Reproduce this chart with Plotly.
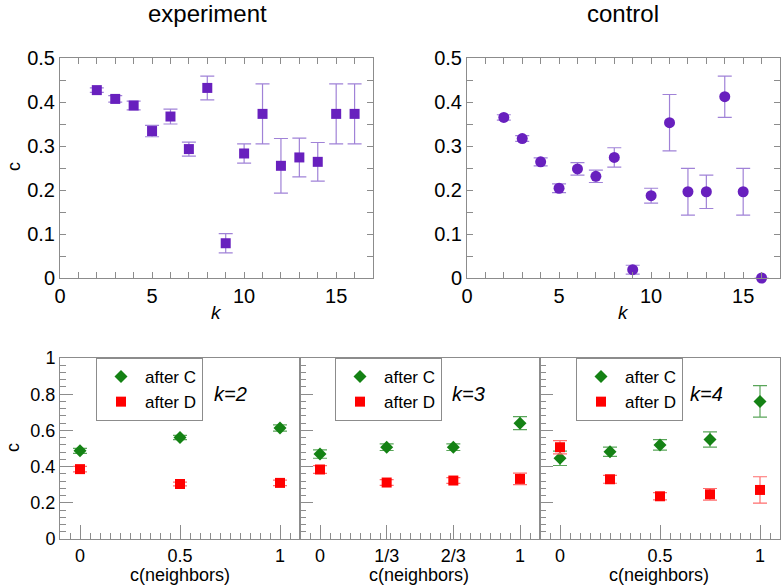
import numpy as np
import plotly.graph_objects as go

# ---- data ----
k_vals = list(range(2, 17))

exp_c = [0.427, 0.407, 0.392, 0.334, 0.367, 0.293, 0.432, 0.079, 0.283, 0.373, 0.255, 0.274, 0.264, 0.373, 0.373]
exp_err = [0.005, 0.0075, 0.01, 0.013, 0.017, 0.016, 0.027, 0.022, 0.022, 0.068, 0.062, 0.044, 0.044, 0.068, 0.068]

ctl_c = [0.365, 0.317, 0.264, 0.204, 0.248, 0.231, 0.274, 0.019, 0.187, 0.353, 0.196, 0.196, 0.412, 0.196, 0.0]
ctl_err = [0.006, 0.0065, 0.009, 0.01, 0.014, 0.014, 0.022, 0.01, 0.017, 0.064, 0.053, 0.038, 0.047, 0.053, None]

# bottom panels: fraction of cooperating neighbours
nb_k2 = [0, 0.5, 1]
afterC_k2 = [0.487, 0.561, 0.613]
afterC_k2_err = [0.014, 0.012, 0.017]
afterD_k2 = [0.386, 0.304, 0.31]
afterD_k2_err = [0.015, 0.01, 0.015]

nb_k3 = [0, 1 / 3, 2 / 3, 1]
afterC_k3 = [0.469, 0.507, 0.507, 0.640]
afterC_k3_err = [0.023, 0.018, 0.018, 0.036]
afterD_k3 = [0.384, 0.312, 0.323, 0.332]
afterD_k3_err = [0.021, 0.016, 0.016, 0.032]

nb_k4 = [0, 0.25, 0.5, 0.75, 1]
afterC_k4 = [0.446, 0.482, 0.520, 0.550, 0.760]
afterC_k4_err = [0.04, 0.026, 0.029, 0.042, 0.087]
afterD_k4 = [0.507, 0.330, 0.236, 0.247, 0.271]
afterD_k4_err = [0.037, 0.022, 0.02, 0.032, 0.073]

top_yticks = [round(v, 2) for v in np.arange(0, 0.51, 0.05)]
top_yticktext = ["0", "", "0.1", "", "0.2", "", "0.3", "", "0.4", "", "0.5"]
top_xticks = list(range(0, 18))
top_xticktext = [str(v) if v % 5 == 0 else "" for v in top_xticks]

half_ticks = [0, 0.5, 1]
half_text = ["0", "0.5", "1"]
third_ticks = [0, 1 / 3, 2 / 3, 1]
third_text = ["0", "1/3", "2/3", "1"]

W, H = 783, 585
FONT = "Liberation Sans, Arial, sans-serif"
PURPLE = "rgb(104,32,190)"
PURPLE_ERR = "rgb(160,130,215)"
GREEN = "rgb(20,130,20)"
GREEN_ERR = "rgb(90,165,90)"
RED = "rgb(255,0,0)"
RED_ERR = "rgb(255,110,110)"
AXC = "rgb(140,140,140)"


def px(x):
    return x / W


def py(y):
    return 1 - y / H


fig = go.Figure()

# top panels
fig.add_trace(go.Scatter(
    x=k_vals, y=exp_c, mode="markers", showlegend=False, cliponaxis=False,
    marker=dict(symbol="square", size=10, color=PURPLE),
    error_y=dict(type="data", array=exp_err, color=PURPLE_ERR, thickness=1.2, width=7),
    xaxis="x", yaxis="y"))
fig.add_trace(go.Scatter(
    x=k_vals, y=ctl_c, mode="markers", showlegend=False, cliponaxis=False,
    marker=dict(symbol="circle", size=11, color=PURPLE),
    error_y=dict(type="data", array=ctl_err, color=PURPLE_ERR, thickness=1.2, width=7),
    xaxis="x2", yaxis="y2"))

# bottom panels
bottom = [
    (nb_k2, afterC_k2, afterC_k2_err, afterD_k2, afterD_k2_err, "x3", "y3", "legend"),
    (nb_k3, afterC_k3, afterC_k3_err, afterD_k3, afterD_k3_err, "x4", "y4", "legend2"),
    (nb_k4, afterC_k4, afterC_k4_err, afterD_k4, afterD_k4_err, "x5", "y5", "legend3"),
]
for nb, cc, ce, dd, de, xa, ya, lg in bottom:
    fig.add_trace(go.Scatter(
        x=nb, y=cc, mode="markers", name="after C", legend=lg, cliponaxis=False,
        marker=dict(symbol="diamond", size=10, color=GREEN),
        error_y=dict(type="data", array=ce, color=GREEN_ERR, thickness=1.2, width=7),
        xaxis=xa, yaxis=ya))
    fig.add_trace(go.Scatter(
        x=nb, y=dd, mode="markers", name="after D", legend=lg, cliponaxis=False,
        marker=dict(symbol="square", size=10, color=RED),
        error_y=dict(type="data", array=de, color=RED_ERR, thickness=1.2, width=7),
        xaxis=xa, yaxis=ya))

common = dict(showgrid=False, zeroline=False, showline=True, linecolor=AXC, linewidth=1,
              mirror=True, ticks="inside", tickcolor=AXC, automargin=False)

top_font = dict(family=FONT, size=20, color="black")
bot_font = dict(family=FONT, size=18, color="black")

top_x = dict(common, range=[0, 17], tickvals=top_xticks, ticktext=top_xticktext,
             ticklen=6, mirror="ticks", tickfont=top_font)
top_y = dict(common, range=[0, 0.5], tickvals=top_yticks, ticktext=top_yticktext,
             ticklen=6, mirror="ticks", tickfont=top_font)

bot_y = dict(common, range=[0, 1], tickvals=[0, 0.2, 0.4, 0.6, 0.8, 1.0],
             ticktext=["0", "0.2", "0.4", "0.6", "0.8", "1"], ticklen=13, tickfont=bot_font,
             minor=dict(ticks="inside", dtick=0.04, tick0=0, ticklen=6, tickcolor=AXC))


def bot_x(dom, vals, text, anchor):
    return dict(common, domain=dom, range=[-0.1, 1.1], tickvals=vals, ticktext=text,
                ticklen=14, tickfont=bot_font, anchor=anchor,
                minor=dict(ticks="inside", dtick=0.05, tick0=0, ticklen=6, tickcolor=AXC))


bot_ydom = [py(539), py(358)]

fig.update_layout(
    width=W, height=H, margin=dict(l=0, r=0, t=0, b=0, autoexpand=False),
    paper_bgcolor="white", plot_bgcolor="white",
    font=dict(family=FONT, size=18, color="black"),
    xaxis=dict(top_x, domain=[px(60), px(373)], anchor="y"),
    yaxis=dict(top_y, domain=[py(278), py(58)], anchor="x"),
    xaxis2=dict(top_x, domain=[px(467), px(780)], anchor="y2"),
    yaxis2=dict(top_y, domain=[py(278), py(58)], anchor="x2"),
    xaxis3=bot_x([px(60), px(300)], half_ticks, half_text, "y3"),
    yaxis3=dict(bot_y, domain=bot_ydom, anchor="x3"),
    xaxis4=bot_x([px(300), px(540)], third_ticks, third_text, "y4"),
    yaxis4=dict(bot_y, domain=bot_ydom, anchor="x4", showticklabels=False),
    xaxis5=bot_x([px(540), px(780)], half_ticks, half_text, "y5"),
    yaxis5=dict(bot_y, domain=bot_ydom, anchor="x5", showticklabels=False),
)

for name, x0 in [("legend", 96), ("legend2", 335), ("legend3", 576)]:
    fig.update_layout({name: dict(x=px(x0), y=py(358), xanchor="left", yanchor="top",
                                  bordercolor=AXC, borderwidth=1, bgcolor="white",
                                  font=dict(family=FONT, size=17, color="black"),
                                  tracegroupgap=0, itemwidth=38)})

ann = [
    dict(text="experiment", x=207, y=13, size=24, italic=False, angle=0),
    dict(text="control", x=623, y=13, size=24, italic=False, angle=0),
    dict(text="k", x=216, y=312, size=19, italic=True, angle=0),
    dict(text="k", x=623, y=312, size=19, italic=True, angle=0),
    dict(text="c", x=14, y=167, size=18, italic=False, angle=-90),
    dict(text="c", x=13, y=448, size=18, italic=False, angle=-90),
    dict(text="c(neighbors)", x=180, y=575, size=18, italic=False, angle=0),
    dict(text="c(neighbors)", x=419, y=575, size=18, italic=False, angle=0),
    dict(text="c(neighbors)", x=659, y=575, size=18, italic=False, angle=0),
    dict(text="k=2", x=230, y=394, size=20, italic=True, angle=0),
    dict(text="k=3", x=468, y=394, size=20, italic=True, angle=0),
    dict(text="k=4", x=706, y=394, size=20, italic=True, angle=0),
]
for a in ann:
    t = "<i>%s</i>" % a["text"] if a["italic"] else a["text"]
    fig.add_annotation(text=t, x=px(a["x"]), y=py(a["y"]), xref="paper", yref="paper",
                       showarrow=False, textangle=a["angle"], xanchor="center", yanchor="middle",
                       font=dict(family=FONT, size=a["size"], color="black"))

fig.write_html("out.html", config={"displayModeBar": False},
               post_script="document.body.style.margin='0';")
